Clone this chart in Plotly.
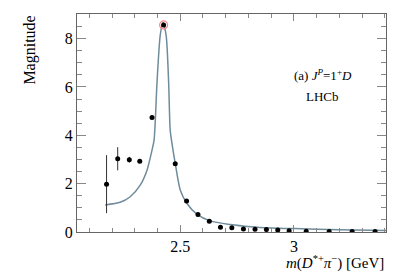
import plotly.graph_objects as go

# Data points
mass = [2.176, 2.225, 2.276, 2.322, 2.376, 2.427, 2.478, 2.528, 2.578, 2.628,
        2.677, 2.727, 2.778, 2.829, 2.879, 2.929, 2.979, 3.054, 3.155, 3.256, 3.357]
magnitude = [1.98, 3.03, 2.99, 2.93, 4.74, 8.57, 2.82, 1.28, 0.72, 0.44,
             0.20, 0.18, 0.12, 0.11, 0.10, 0.08, 0.05, 0.03, 0.02, 0.02, 0.02]
mag_err = [1.2, 0.48, 0.12, 0.05, 0, 0, 0, 0, 0, 0,
           0, 0, 0, 0, 0, 0, 0, 0, 0, 0, 0]

# Model curve
curve_x = [2.170, 2.236, 2.280, 2.324, 2.354, 2.376, 2.385, 2.398, 2.412, 2.424,
           2.438, 2.449, 2.456, 2.466, 2.478, 2.500, 2.529, 2.573, 2.632, 2.720,
           2.810, 2.900, 3.000, 3.200, 3.405]
curve_y = [1.12, 1.23, 1.46, 1.94, 2.56, 3.39, 3.80, 6.21, 8.14, 8.67,
           8.14, 6.21, 4.21, 3.52, 2.84, 1.74, 1.19, 0.74, 0.46, 0.31,
           0.22, 0.17, 0.14, 0.09, 0.06]

# Highlighted point
peak_x = [2.427]
peak_y = [8.57]

serif = "Liberation Serif"

fig = go.Figure()
fig.add_trace(go.Scatter(
    x=curve_x, y=curve_y, mode="lines",
    line=dict(color="#6f8c9c", width=1.5, shape="spline", smoothing=0.7),
    hoverinfo="skip", showlegend=False))
fig.add_trace(go.Scatter(
    x=mass, y=magnitude, mode="markers",
    marker=dict(color="black", size=5),
    error_y=dict(type="data", array=mag_err, visible=True, color="#333333",
                 thickness=1, width=0),
    showlegend=False))
fig.add_trace(go.Scatter(
    x=peak_x, y=peak_y, mode="markers",
    marker=dict(color="rgba(0,0,0,0)", size=8,
                line=dict(color="#f08a8a", width=1.2)),
    showlegend=False))

axis_common = dict(
    showgrid=False, zeroline=False, showline=True, linecolor="#666666",
    linewidth=1, mirror="ticks", ticks="inside", tickcolor="#888888",
    tickfont=dict(family=serif, size=16, color="black"),
)

fig.update_xaxes(
    range=[2.046, 3.405], tickvals=[2.5, 3.0], ticktext=["2.5", "3"],
    ticklen=7,
    minor=dict(dtick=0.1, tick0=2.0, ticks="inside", ticklen=4, tickcolor="#888888"),
    **axis_common)
fig.update_yaxes(
    range=[0, 9.02], tickvals=[0, 2, 4, 6, 8], ticklen=9,
    minor=dict(dtick=0.5, tick0=0, ticks="inside", ticklen=5, tickcolor="#888888"),
    **axis_common)

# The page body adds an 8px offset, so the figure is 8px smaller than the window.
fig.update_layout(
    width=399, height=269,
    margin=dict(l=69, r=21, t=6, b=45),
    paper_bgcolor="white", plot_bgcolor="white",
    font=dict(family=serif, color="black"),
    annotations=[
        dict(text="Magnitude", x=-0.155, xref="paper", xanchor="center",
             y=1.0, yref="paper", yanchor="top", textangle=-90,
             showarrow=False, font=dict(family=serif, size=16)),
        dict(text="<i>m</i>(<i>D</i><sup>*+</sup><i>π</i><sup>−</sup>) [GeV]",
             x=1.0, xref="paper", xanchor="right", y=-0.142, yref="paper",
             yanchor="middle", showarrow=False, font=dict(family=serif, size=15)),
        dict(text="(a) <i>J</i><sup><i>P</i></sup>=1<sup>+</sup><i>D</i>",
             x=0.795, xref="paper", xanchor="center", y=0.72, yref="paper",
             yanchor="middle", showarrow=False, font=dict(family=serif, size=13)),
        dict(text="LHCb", x=0.795, xref="paper", xanchor="center", y=0.62,
             yref="paper", yanchor="middle", showarrow=False,
             font=dict(family=serif, size=13)),
    ],
)

fig.write_html("out.html")
